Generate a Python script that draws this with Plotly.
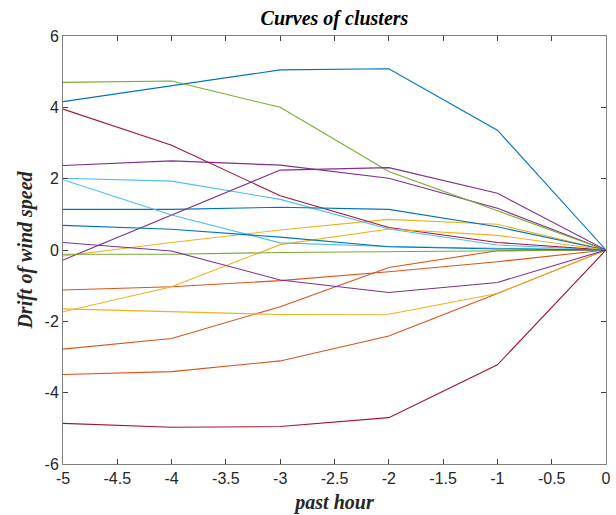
import plotly.graph_objects as go

x_hours = [-5, -4, -3, -2, -1, 0]

series_values = [
    [4.16, 4.60, 5.05, 5.08, 3.36, 0.0],      # blue top
    [-2.78, -2.48, -1.59, -0.49, -0.02, 0.0],  # orange
    [-0.17, 0.21, 0.56, 0.86, 0.72, 0.0],      # yellow
    [2.37, 2.50, 2.38, 2.01, 1.17, 0.0],       # purple
    [4.70, 4.74, 4.00, 2.20, 1.10, 0.0],       # green
    [2.01, 1.93, 1.42, 0.59, 0.14, 0.0],       # light blue
    [3.95, 2.94, 1.52, 0.63, 0.21, 0.0],       # dark red
    [1.14, 1.14, 1.20, 1.14, 0.65, 0.0],       # blue flat
    [-1.12, -1.03, -0.86, -0.61, -0.33, 0.0],  # orange
    [-1.73, -1.03, 0.15, 0.59, 0.41, 0.0],     # yellow
    [-0.28, 0.98, 2.24, 2.31, 1.59, 0.0],      # purple
    [-0.12, -0.12, -0.07, -0.05, -0.02, 0.0],  # green flat
    [1.97, 0.98, 0.20, 0.10, 0.05, 0.0],       # light blue
    [-4.86, -4.97, -4.95, -4.70, -3.22, 0.0],  # dark red low
    [0.69, 0.58, 0.36, 0.09, 0.03, 0.0],       # blue
    [-3.49, -3.41, -3.11, -2.41, -1.22, 0.0],  # orange low
    [-1.65, -1.73, -1.81, -1.80, -1.22, 0.0],  # yellow flat
    [0.21, -0.03, -0.84, -1.19, -0.91, 0.0],   # purple low
]

colors = ["#0072BD", "#D95319", "#EDB120", "#7E2F8E", "#77AC30", "#4DBEEE", "#A2142F"]

x_tickvals = [-5, -4.5, -4, -3.5, -3, -2.5, -2, -1.5, -1, -0.5, 0]
x_ticktext = ["-5", "-4.5", "-4", "-3.5", "-3", "-2.5", "-2", "-1.5", "-1", "-0.5", "0"]
y_tickvals = [-6, -4, -2, 0, 2, 4, 6]
y_ticktext = ["-6", "-4", "-2", "0", "2", "4", "6"]

fig = go.Figure()
for i, vals in enumerate(series_values):
    fig.add_trace(go.Scatter(
        x=x_hours, y=vals, mode="lines",
        line=dict(color=colors[i % len(colors)], width=1.1),
        showlegend=False, hoverinfo="skip",
    ))

axis_common = dict(
    showgrid=False, zeroline=False, showline=True, linecolor="#808080", linewidth=1,
    mirror="allticks", ticks="inside", ticklen=5, tickcolor="#404040", tickwidth=1,
    automargin=False,
    tickfont=dict(family="Liberation Sans, Arial", size=16, color="#262626"),
)

serif = "Liberation Serif, Times New Roman"

fig.update_layout(
    width=616, height=515,
    margin=dict(l=63, r=10, t=36, b=51),
    paper_bgcolor="white", plot_bgcolor="white",
    title=dict(text="<b><i>Curves of clusters</i></b>", x=0.543, xanchor="center",
               y=0.965, yanchor="middle",
               font=dict(family=serif, size=20, color="black")),
    xaxis=dict(range=[-5, 0], tickvals=x_tickvals, ticktext=x_ticktext,
               title=dict(text="<b><i>past hour</i></b>", standoff=8,
                          font=dict(family=serif, size=20, color="#262626")),
               **axis_common),
    yaxis=dict(range=[-6, 6], tickvals=y_tickvals, ticktext=y_ticktext,
               title=dict(text="<b><i>Drift of wind speed</i></b>", standoff=6,
                          font=dict(family=serif, size=20, color="#262626")),
               **axis_common),
)

fig.write_html("out.html")
